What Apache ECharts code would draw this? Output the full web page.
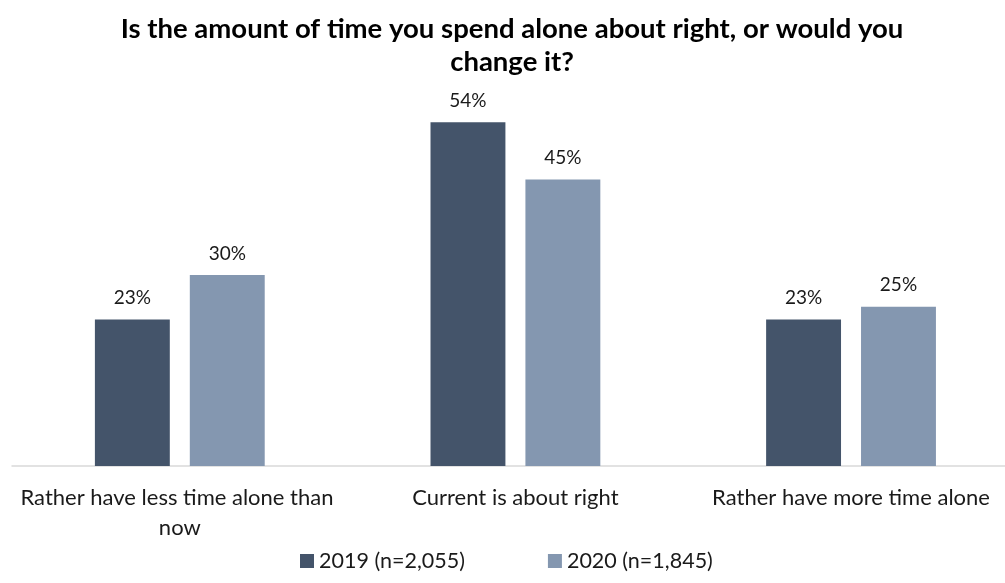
<!DOCTYPE html>
<html>
<head>
<meta charset="utf-8">
<script src="https://cdn.jsdelivr.net/npm/echarts@6/dist/echarts.min.js"></script>
<style>
  html, body { margin: 0; padding: 0; background: #fff; overflow: hidden; }
  #chart { width: 1019px; height: 583px; }
</style>
</head>
<body>
<div id="chart"></div>
<script>
const categories = [
  'Rather have less time alone than now',
  'Current is about right',
  'Rather have more time alone'
];
const seriesNames = ['2019 (n=2,055)', '2020 (n=1,845)'];
const values2019 = [23, 54, 23];
const values2020 = [30, 45, 25];
const colors = ['#44546A', '#8497B0'];

const FONT = 'Lato, "Open Sans", sans-serif';
const chart = echarts.init(document.getElementById('chart'), null, { renderer: 'canvas' });

const labelStyle = {
  show: true,
  position: 'top',
  distance: 12,
  formatter: p => p.value + '%',
  fontFamily: FONT,
  fontSize: 19,
  color: '#1a1a1a'
};

chart.setOption({
  animation: false,
  backgroundColor: '#ffffff',
  title: {
    text: 'Is the amount of time you spend alone about right, or would you\nchange it?',
    left: 507,
    top: 8,
    textAlign: 'center',
    textStyle: {
      fontFamily: FONT,
      fontSize: 27.5,
      fontWeight: 'bold',
      color: '#000000',
      lineHeight: 33
    }
  },
  legend: {
    data: seriesNames,
    top: 545,
    left: 295,
    itemWidth: 14,
    itemHeight: 14,
    itemGap: 83,
    icon: 'rect',
    textStyle: { fontFamily: FONT, fontSize: 21.5, color: '#1a1a1a' }
  },
  grid: { left: 12, right: 0, top: 84, bottom: 117, containLabel: false },
  xAxis: {
    type: 'category',
    data: categories,
    axisLine: { lineStyle: { color: '#D9D9D9', width: 1.5 } },
    axisTick: { show: false },
    axisLabel: {
      fontFamily: FONT,
      fontSize: 22,
      color: '#1a1a1a',
      margin: 17,
      lineHeight: 30,
      width: 330,
      overflow: 'break',
      interval: 0
    }
  },
  yAxis: {
    type: 'value',
    min: 0,
    max: 60,
    show: false,
    splitLine: { show: false }
  },
  series: [
    {
      name: seriesNames[0],
      type: 'bar',
      data: values2019,
      itemStyle: { color: colors[0] },
      barGap: '26.7%',
      barCategoryGap: '49.4%',
      label: labelStyle
    },
    {
      name: seriesNames[1],
      type: 'bar',
      data: values2020,
      itemStyle: { color: colors[1] },
      label: labelStyle
    }
  ]
});
</script>
</body>
</html>
